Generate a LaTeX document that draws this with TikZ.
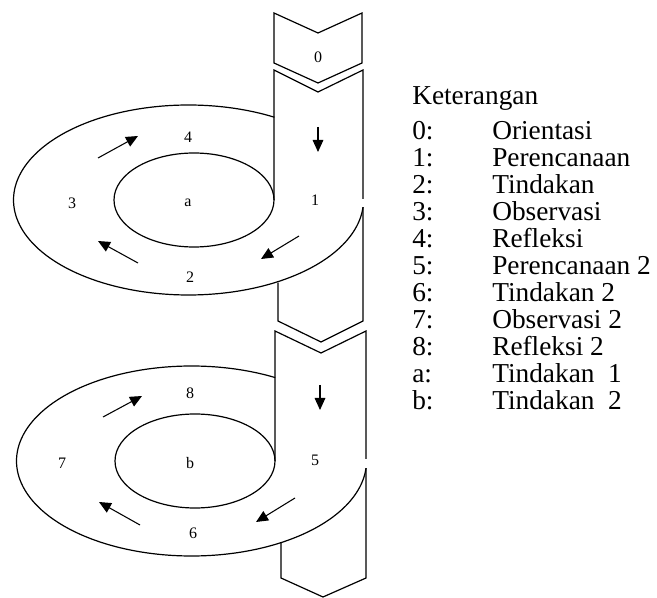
\documentclass[tikz,border=0pt]{standalone}
\usepackage{fontspec}
\setmainfont{Liberation Serif}
\usetikzlibrary{arrows.meta}
\begin{document}
\begin{tikzpicture}[x=0.75pt,y=-0.75pt,
  edge/.style={line width=0.9pt, line join=miter},
  flow/.style={line width=0.8pt,-{Triangle[length=9pt,width=8pt]}},
  num/.style={font=\fontsize{12}{12}\selectfont, inner sep=0pt},
  legk/.style={font=\fontsize{20.5}{21}\selectfont, anchor=base west, inner sep=0pt}]
\useasboundingbox (0,0) rectangle (657,598);

% ---- chevron 0
\draw[edge] (274,13) -- (318,33) -- (362,13) -- (362,63) -- (318,83) -- (274,63) -- cycle;
\node[num] (n0) at (318,57) {0};

% ---- top ring
\draw[edge] (274,200) -- (274,70) -- (318,92) -- (363,70) -- (363,199);
\draw[edge] plot[domain=-60.6:-355.7, samples=150, smooth, variable=\t] ({188.5+175*cos(\t)},{200+95*sin(\t)});
\draw[edge] (363,207.1) -- (363,321) -- (321,342) -- (278,321) -- (278,282.7);
\draw[edge] (194,200) ellipse [x radius=60pt, y radius=35.25pt];

\draw[flow] (318,127) -- (318,152);
\draw[flow] (98,158) -- (138,136);
\draw[flow] (138,263) -- (98,241);
\draw[flow] (299,236) -- (261,259);

\node[num] (n4) at (188,137) {4};
\node[num] (n3) at (72,203) {3};
\node[num] (na) at (188,203) {a};
\node[num] (n1) at (315,200) {1};
\node[num] (n2) at (190,277) {2};

% ---- lower ring
\draw[edge] (275,461) -- (275,331) -- (321,353) -- (366,331) -- (366,459);
\draw[edge] plot[domain=-61.4:-355.7, samples=150, smooth, variable=\t] ({191.5+175*cos(\t)},{461+95*sin(\t)});
\draw[edge] (366,468.1) -- (366,578) -- (323,597) -- (281,578) -- (281,543.2);
\draw[edge] (195,461) ellipse [x radius=60pt, y radius=35.25pt];

\draw[flow] (320,385) -- (320,410);
\draw[flow] (103,417) -- (142,396);
\draw[flow] (140,525) -- (99,502);
\draw[flow] (295,498) -- (256,522);

\node[num] (n8) at (190,393) {8};
\node[num] (n7) at (62,463) {7};
\node[num] (nb) at (190,463) {b};
\node[num] (n5) at (315,460) {5};
\node[num] (n6) at (193,533) {6};

% ---- legend
\node[legk] (kt) at (412,105) {Keterangan};
\foreach \k/\l/\t [count=\i from 0] in {0/0:/Orientasi,1/1:/Perencanaan,2/2:/Tindakan,3/3:/Observasi,4/4:/Refleksi,5/5:/Perencanaan 2,6/6:/Tindakan 2,7/7:/Observasi 2,8/8:/Refleksi 2,a/a:/Tindakan\ \ 1,b/b:/Tindakan\ \ 2}{
  \node[legk] (lk\k) at (412,140+27*\i) {\l};
  \node[legk] (lt\k) at (492,140+27*\i) {\t};
}
\end{tikzpicture}
\end{document}
